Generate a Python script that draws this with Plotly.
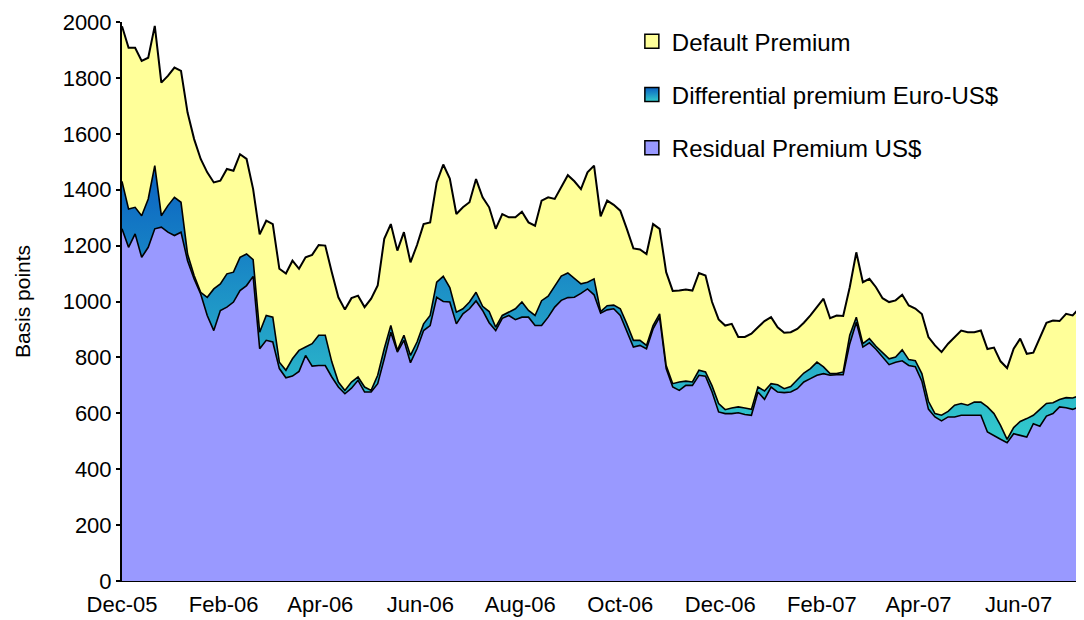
import plotly.graph_objects as go
import pandas as pd

# Sample dates (every 4 days from 1 Dec 2005)
dates = pd.date_range("2005-12-01", periods=148, freq="4D")

residual_us = [1260,1194,1242,1158,1194,1260,1266,1248,1236,1248,
 1146,1081,1027,950,896,968,980,998,1039,1057,
 1090,831,861,855,760,727,733,750,807,769,
 771,771,730,694,670,690,718,676,676,706,
 795,890,819,861,781,831,896,914,1015,1000,
 998,920,956,974,1002,968,924,896,940,950,
 935,944,944,914,914,944,980,1004,1014,1015,
 1029,1045,1024,958,970,974,950,896,837,843,
 831,902,944,760,694,682,700,700,736,733,
 676,605,599,599,602,596,593,676,650,694,
 676,674,676,688,712,724,736,742,736,738,
 738,849,926,837,852,829,801,774,783,788,
 771,767,715,615,587,573,587,587,593,593,
 593,593,533,519,507,495,527,521,515,563,
 554,590,599,623,620,614,623,600]

differential_eur_us = [170,137,95,149,173,226,41,95,137,107,
 24,12,6,65,149,95,119,107,119,113,
 60,59,89,89,23,27,62,75,30,80,
 108,108,54,18,12,22,12,18,6,30,
 36,24,6,18,26,24,24,36,54,90,
 52,42,18,24,31,15,40,12,10,12,
 39,54,24,36,89,75,75,87,88,66,
 34,24,57,6,15,13,24,24,24,18,
 12,12,12,11,12,30,15,12,18,15,
 22,30,14,20,21,23,21,18,30,12,
 26,14,20,32,32,36,47,24,6,4,
 10,30,18,12,15,11,16,21,18,39,
 21,21,27,28,12,20,20,42,42,36,
 47,47,90,80,50,12,22,50,66,30,
 60,45,39,26,36,41,39,52]

default_premium = [555,577,571,554,505,500,476,464,464,470,
 506,488,477,447,381,369,375,363,369,340,
 252,350,339,333,334,346,351,292,321,318,
 323,321,321,303,289,300,291,286,328,321,
 393,363,357,369,333,347,357,333,357,400,
 390,351,363,357,405,390,373,352,363,339,
 327,323,315,321,358,354,312,317,350,349,
 339,393,405,341,376,359,351,340,329,325,
 327,363,304,334,332,327,328,327,348,345,
 300,301,301,301,250,254,271,214,250,238,
 206,200,194,182,180,190,197,244,198,208,
 200,172,232,220,214,211,195,203,203,197,
 194,187,213,230,244,226,242,244,261,261,
 250,256,207,236,229,255,282,296,232,224,
 255,289,294,281,300,295,314,338]

names = ["Default Premium", "Differential premium Euro-US$", "Residual Premium US$"]

FONT = "Arial, Liberation Sans, sans-serif"

fig = go.Figure()
fig.add_trace(go.Scatter(
    x=dates, y=residual_us, stackgroup="one", mode="lines",
    line=dict(color="black", width=1.6), fillcolor="#9999FF",
    name=names[2], showlegend=False, hoverinfo="skip"))
fig.add_trace(go.Scatter(
    x=dates, y=differential_eur_us, stackgroup="one", mode="lines",
    line=dict(color="black", width=1.6),
    fillgradient=dict(type="vertical",
                      colorscale=[[0, "#33CCCC"], [1, "#0A60C2"]],
                      start=490, stop=1490),
    name=names[1], showlegend=False, hoverinfo="skip"))
fig.add_trace(go.Scatter(
    x=dates, y=default_premium, stackgroup="one", mode="lines",
    line=dict(color="black", width=2), fillcolor="#FFFF99",
    name=names[0], showlegend=False, hoverinfo="skip"))

# legend entries (square swatches)
swatches = [
    dict(color="#FFFF99"),
    dict(color="#0A60C2", gradient=dict(type="vertical", color="#33CCCC")),
    dict(color="#9999FF"),
]
for i, (nm, sw) in enumerate(zip(names, swatches)):
    fig.add_trace(go.Scatter(
        x=[None], y=[None], mode="markers", name=nm, legendgroup=f"g{i}",
        marker=dict(symbol="square", size=14, line=dict(color="black", width=1.5), **sw)))

# the page body adds an 8px offset, so the figure is sized 8px smaller
fig.update_layout(
    width=1076, height=612,
    margin=dict(l=114, r=0, t=14, b=39, autoexpand=False),
    paper_bgcolor="white", plot_bgcolor="white",
    font=dict(family=FONT, size=22, color="black"),
    showlegend=True,
    legend=dict(x=0.53, y=1.005, xanchor="left", yanchor="top",
                traceorder="grouped", tracegroupgap=19,
                font=dict(size=24, family=FONT), bgcolor="rgba(0,0,0,0)"),
)
fig.update_xaxes(
    type="date", range=["2005-12-01", "2007-07-10 22:00"],
    tick0="2005-12-01", dtick="M2", tickformat="%b-%y",
    ticks="outside", ticklen=4, tickcolor="rgba(0,0,0,0)",
    showline=True, linecolor="black", linewidth=1, automargin=False,
    showgrid=False, zeroline=False, tickfont=dict(size=22))
fig.update_yaxes(
    range=[0, 2000], dtick=200, tick0=0,
    ticks="outside", ticklen=4, tickwidth=1.5, tickcolor="black",
    showline=True, linecolor="black", linewidth=2, automargin=False,
    showgrid=False, zeroline=False, tickfont=dict(size=22),
    title=dict(text="Basis points", font=dict(size=21), standoff=26))

fig.write_html("out.html")
